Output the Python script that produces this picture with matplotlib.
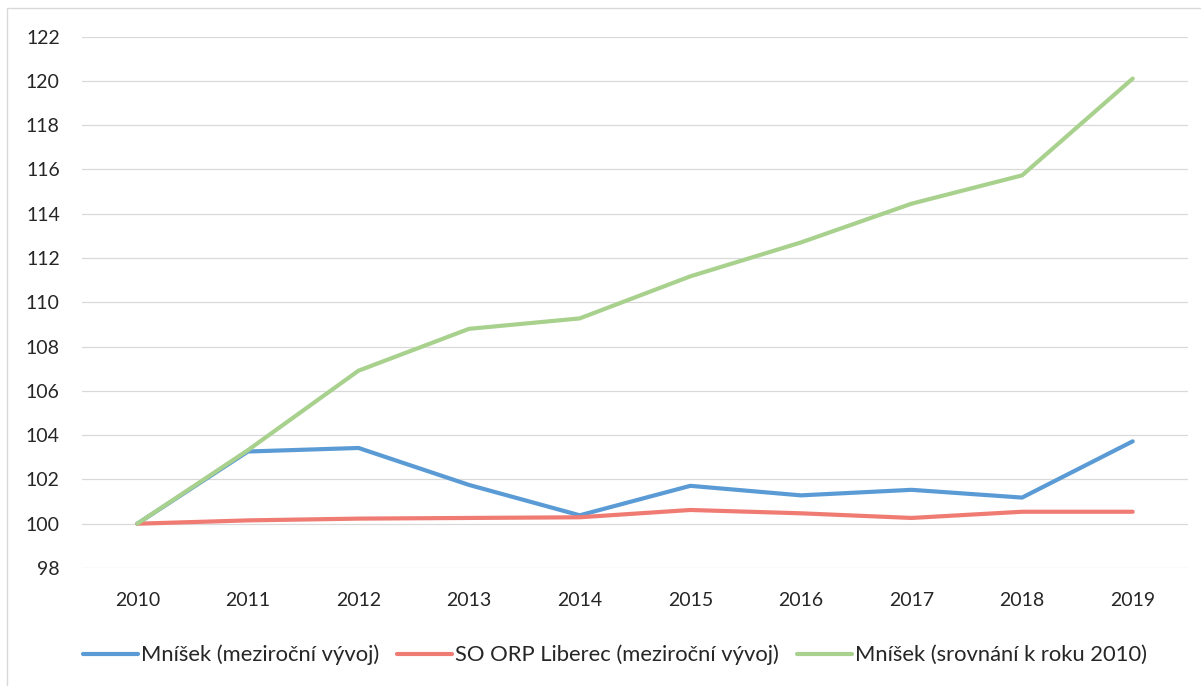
import matplotlib

matplotlib.use("Agg")
import matplotlib.pyplot as plt
from matplotlib.patches import Rectangle

years = ["2010", "2011", "2012", "2013", "2014", "2015", "2016", "2017", "2018", "2019"]
mnisek_yoy = [100.0, 103.26, 103.42, 101.75, 100.38, 101.71, 101.28, 101.53, 101.18, 103.72]
liberec_yoy = [100.0, 100.15, 100.23, 100.26, 100.29, 100.62, 100.47, 100.26, 100.54, 100.54]
mnisek_2010 = [100.0, 103.32, 106.91, 108.8, 109.27, 111.17, 112.7, 114.45, 115.73, 120.1]

series = [
    ("Mníšek (meziroční vývoj)", mnisek_yoy, "#5B9BD5"),
    ("SO ORP Liberec (meziroční vývoj)", liberec_yoy, "#EF7B73"),
    ("Mníšek (srovnání k roku 2010)", mnisek_2010, "#A9D18E"),
]

plt.rcParams["font.family"] = ["Lato", "DejaVu Sans"]

W, H = 1201, 686
fig = plt.figure(figsize=(W / 100, H / 100), dpi=100)
ax = fig.add_axes([82 / W, 1 - 568 / H, (1188 - 82) / W, (568 - 36.5) / H])

x = list(range(len(years)))
for label, vals, color in series:
    ax.plot(x, vals, color=color, linewidth=3.0, label=label, solid_capstyle="round",
            solid_joinstyle="round")

ax.set_xlim(-0.5, len(years) - 0.5)
ax.set_ylim(98, 122)
ax.set_yticks(range(98, 123, 2))
ax.set_xticks(x)
ax.set_xticklabels(years)
ax.grid(axis="y", color="#D9D9D9", linewidth=0.9)
ax.set_axisbelow(True)
for s in ax.spines.values():
    s.set_visible(False)
ax.tick_params(axis="both", length=0, labelsize=14, colors="#595959", labelcolor="#262626")
ax.tick_params(axis="y", pad=16)
ax.tick_params(axis="x", pad=17)

fig.legend(loc="center", bbox_to_anchor=(615 / W, 1 - 655 / H), ncol=3, frameon=False,
           fontsize=15.8, handlelength=2.5, handletextpad=0.15, columnspacing=0.8,
           labelcolor="#262626")

# light border of the chart area
fig.patches.append(Rectangle((7 / W, -0.05), 1.2, 1 - 8.5 / H + 0.05, transform=fig.transFigure,
                             fill=False, edgecolor="#D9D9D9", linewidth=1.0))

fig.savefig("out.png", dpi=100)
